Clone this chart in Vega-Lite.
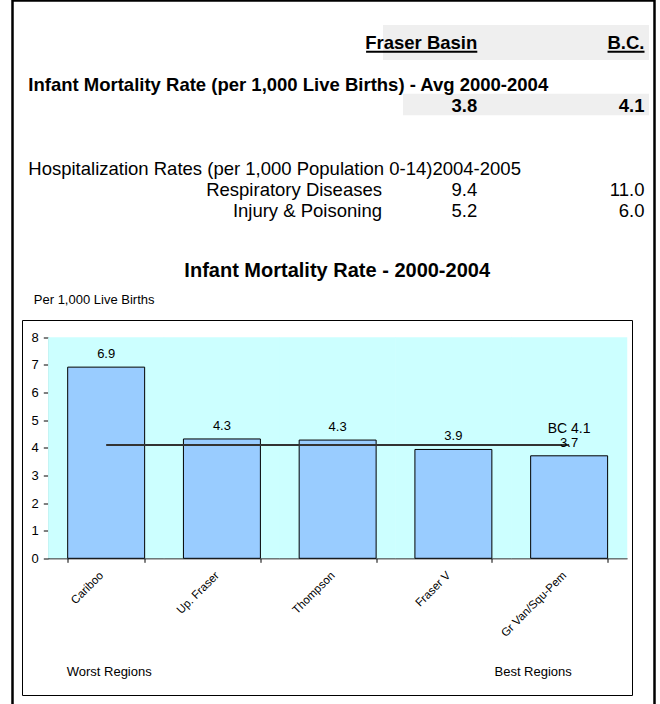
{
  "$schema": "https://vega.github.io/schema/vega-lite/v6.json",
  "width": 642,
  "height": 706,
  "autosize": {"type": "none"},
  "padding": {"left": 12.5, "top": 0.5, "right": 5.5, "bottom": -2.5},
  "background": "white",
  "view": {"stroke": "black", "strokeWidth": 2.5, "fill": "white"},
  "config": {
    "font": "Liberation Sans",
    "text": {"font": "Liberation Sans", "color": "black"},
    "axis": {"labelFont": "Liberation Sans", "titleFont": "Liberation Sans", "labelColor": "black", "titleColor": "black", "domainColor": "black", "tickColor": "black", "grid": false}
  },
  "resolve": {"scale": {"x": "independent", "y": "independent"}, "axis": {"x": "independent", "y": "independent"}},
  "layer": [
    {
      "data": {"values": [{"part": "chart area"}]},
      "mark": {"type": "rect", "fill": "transparent", "stroke": "black", "strokeWidth": 1},
      "encoding": {
        "x": {"datum": 0, "type": "quantitative",
          "scale": {"domain": [0, 1], "range": [10, 620], "nice": false, "zero": false},
          "axis": {"orient": "top", "offset": 0, "domain": false, "ticks": false, "labels": false, "grid": false,
            "title": "Infant Mortality Rate - 2000-2004", "titleFontSize": 20, "titleFontWeight": "bold",
            "titleX": 324.2, "titleY": 275.5, "titleAlign": "center", "titleBaseline": "alphabetic", "titleAngle": 0}},
        "x2": {"datum": 1},
        "y": {"datum": 0, "type": "quantitative",
          "scale": {"domain": [0, 1], "range": [695, 320], "nice": false, "zero": false},
          "axis": {"orient": "left", "offset": 0, "domain": false, "ticks": false, "labels": false, "grid": false,
            "title": "Best Regions", "titleFontSize": 13, "titleFontWeight": "normal",
            "titleX": 481.5, "titleY": 674.5, "titleAlign": "left", "titleBaseline": "alphabetic", "titleAngle": 0}},
        "y2": {"datum": 1}
      }
    },
    {
      "data": {"values": [
        {"row": 1, "section": "columns", "fbHead": "Fraser Basin", "bcHead": "B.C."},
        {"row": 3, "section": "infant", "title": "Infant Mortality Rate (per 1,000 Live Births) - Avg 2000-2004"},
        {"row": 4, "section": "infant", "measure": "Infant Mortality Rate", "fb": 3.8, "bc": 4.1},
        {"row": 7, "section": "hosp", "title": "Hospitalization Rates (per 1,000 Population 0-14)2004-2005"},
        {"row": 8, "section": "hosp", "item": "Respiratory Diseases", "fb": 9.4, "bc": 11.0},
        {"row": 9, "section": "hosp", "item": "Injury & Poisoning", "fb": 5.2, "bc": 6.0}
      ]},
      "layer": [
        {
          "transform": [{"filter": "datum.row == 1"}],
          "mark": {"type": "rect", "fill": "#efefef"},
          "encoding": {
            "x": {"datum": 1.01, "type": "quantitative", "scale": {"domain": [0, 1, 2, 3], "range": [15.8, 369.5, 464.8, 632], "nice": false, "zero": false}, "axis": null},
            "x2": {"datum": 3.027},
            "y": {"datum": -0.126, "type": "quantitative", "scale": {"domain": [0, 10], "range": [27.1, 237.6], "nice": false, "zero": false}, "axis": null},
            "y2": {"datum": 1.537}
          }
        },
        {
          "transform": [{"filter": "datum.row == 4"}],
          "mark": {"type": "rect", "fill": "#efefef"},
          "encoding": {
            "x": {"datum": 1.22, "type": "quantitative", "axis": null},
            "x2": {"datum": 3.027},
            "y": {"datum": 3.145, "type": "quantitative", "axis": null},
            "y2": {"datum": 4.16}
          }
        },
        {
          "transform": [{"filter": "datum.section == 'infant' && isValid(datum.title)"}],
          "mark": {"type": "text", "align": "left", "baseline": "alphabetic", "fontSize": 18.5, "fontWeight": "bold"},
          "encoding": {
            "x": {"datum": 0, "type": "quantitative", "axis": null},
            "y": {"field": "row", "type": "quantitative", "axis": null},
            "text": {"field": "title"}
          }
        },
        {
          "transform": [{"filter": "datum.section == 'hosp' && isValid(datum.title)"}],
          "mark": {"type": "text", "align": "left", "baseline": "alphabetic", "fontSize": 18.5, "fontWeight": "normal"},
          "encoding": {
            "x": {"datum": 0, "type": "quantitative", "axis": null},
            "y": {"field": "row", "type": "quantitative", "axis": null},
            "text": {"field": "title"}
          }
        },
        {
          "transform": [{"filter": "isValid(datum.item)"}],
          "mark": {"type": "text", "align": "right", "baseline": "alphabetic", "fontSize": 18.5},
          "encoding": {
            "x": {"datum": 1, "type": "quantitative", "axis": null},
            "y": {"field": "row", "type": "quantitative", "axis": null},
            "text": {"field": "item"}
          }
        },
        {
          "transform": [{"filter": "datum.section == 'columns'"}],
          "mark": {"type": "text", "align": "right", "baseline": "alphabetic", "fontSize": 18.5, "fontWeight": "bold"},
          "encoding": {
            "x": {"datum": 2, "type": "quantitative", "axis": null},
            "y": {"field": "row", "type": "quantitative", "axis": null},
            "text": {"field": "fbHead"}
          }
        },
        {
          "transform": [{"filter": "datum.section == 'columns'"}],
          "mark": {"type": "text", "align": "right", "baseline": "alphabetic", "fontSize": 18.5, "fontWeight": "bold"},
          "encoding": {
            "x": {"datum": 3, "type": "quantitative", "axis": null},
            "y": {"field": "row", "type": "quantitative", "axis": null},
            "text": {"field": "bcHead"}
          }
        },
        {
          "transform": [{"filter": "datum.section == 'columns'"}],
          "mark": {"type": "rule", "color": "black", "strokeWidth": 2, "yOffset": 3},
          "encoding": {
            "x": {"datum": 0.955, "type": "quantitative", "axis": null},
            "x2": {"datum": 2},
            "y": {"field": "row", "type": "quantitative", "axis": null}
          }
        },
        {
          "transform": [{"filter": "datum.section == 'columns'"}],
          "mark": {"type": "rule", "color": "black", "strokeWidth": 2, "yOffset": 3},
          "encoding": {
            "x": {"datum": 2.779, "type": "quantitative", "axis": null},
            "x2": {"datum": 3},
            "y": {"field": "row", "type": "quantitative", "axis": null}
          }
        },
        {
          "transform": [{"filter": "datum.section == 'infant' && isValid(datum.fb)"}],
          "mark": {"type": "text", "align": "right", "baseline": "alphabetic", "fontSize": 18.5, "fontWeight": "bold"},
          "encoding": {
            "x": {"datum": 2, "type": "quantitative", "axis": null},
            "y": {"field": "row", "type": "quantitative", "axis": null},
            "text": {"field": "fb", "type": "quantitative", "format": ".1f"}
          }
        },
        {
          "transform": [{"filter": "datum.section == 'infant' && isValid(datum.bc)"}],
          "mark": {"type": "text", "align": "right", "baseline": "alphabetic", "fontSize": 18.5, "fontWeight": "bold"},
          "encoding": {
            "x": {"datum": 3, "type": "quantitative", "axis": null},
            "y": {"field": "row", "type": "quantitative", "axis": null},
            "text": {"field": "bc", "type": "quantitative", "format": ".1f"}
          }
        },
        {
          "transform": [{"filter": "datum.section == 'hosp' && isValid(datum.fb)"}],
          "mark": {"type": "text", "align": "right", "baseline": "alphabetic", "fontSize": 18.5},
          "encoding": {
            "x": {"datum": 2, "type": "quantitative", "axis": null},
            "y": {"field": "row", "type": "quantitative", "axis": null},
            "text": {"field": "fb", "type": "quantitative", "format": ".1f"}
          }
        },
        {
          "transform": [{"filter": "datum.section == 'hosp' && isValid(datum.bc)"}],
          "mark": {"type": "text", "align": "right", "baseline": "alphabetic", "fontSize": 18.5},
          "encoding": {
            "x": {"datum": 3, "type": "quantitative", "axis": null},
            "y": {"field": "row", "type": "quantitative", "axis": null},
            "text": {"field": "bc", "type": "quantitative", "format": ".1f"}
          }
        }
      ]
    },
    {
      "data": {"values": [
        {"region": "Cariboo", "rate": 6.92, "bc": 4.1},
        {"region": "Up. Fraser", "rate": 4.32, "bc": 4.1},
        {"region": "Thompson", "rate": 4.28, "bc": 4.1},
        {"region": "Fraser V", "rate": 3.94, "bc": 4.1},
        {"region": "Gr Van/Squ-Pem", "rate": 3.71, "bc": 4.1, "bcLabel": "BC 4.1"}
      ]},
      "encoding": {
        "x": {"field": "region", "type": "nominal", "sort": null,
          "scale": {"type": "band", "domain": ["Cariboo", "Up. Fraser", "Thompson", "Fraser V", "Gr Van/Squ-Pem"], "range": [35.8, 614.5], "paddingInner": 0.335, "paddingOuter": 0.1675},
          "axis": {"orient": "bottom", "offset": -148.2, "labelAngle": -45, "labelFontSize": 11.5, "labelPadding": 7, "labelOffset": -9, "tickSize": 4, "tickBand": "extent", "labelOverlap": false,
            "title": "Worst Regions", "titleFontSize": 13, "titleFontWeight": "normal", "titleX": 96.2, "titleY": 116.7, "titleAlign": "center", "titleBaseline": "alphabetic", "titleAngle": 0}}
      },
      "layer": [
        {
          "mark": {"type": "bar", "fill": "#ccffff", "width": {"band": 1.51}},
          "encoding": {
            "y": {"datum": 8, "type": "quantitative", "scale": {"domain": [0, 8], "range": [557.8, 336.8], "nice": false, "zero": false},
              "axis": {"orient": "left", "offset": -35.8, "values": [0, 1, 2, 3, 4, 5, 6, 7, 8], "tickSize": 5, "labelPadding": 5, "labelFontSize": 13,
                "title": "Per 1,000 Live Births", "titleFontSize": 13, "titleFontWeight": "normal", "titleAngle": 0, "titleX": -15, "titleY": 302.8, "titleAlign": "left", "titleBaseline": "alphabetic"}},
            "y2": {"datum": 0}
          }
        },
        {
          "mark": {"type": "bar", "fill": "#99ccff", "stroke": "black", "strokeWidth": 1},
          "encoding": {
            "y": {"field": "rate", "type": "quantitative",
              "axis": {"orient": "left", "offset": -35.8, "values": [0, 1, 2, 3, 4, 5, 6, 7, 8], "tickSize": 5, "labelPadding": 5, "labelFontSize": 13,
                "title": "Per 1,000 Live Births", "titleFontSize": 13, "titleFontWeight": "normal", "titleAngle": 0, "titleX": -15, "titleY": 302.8, "titleAlign": "left", "titleBaseline": "alphabetic"}}
          }
        },
        {
          "mark": {"type": "line", "color": "#333333", "strokeWidth": 2},
          "encoding": {"y": {"field": "bc", "type": "quantitative",
              "axis": {"orient": "left", "offset": -35.8, "values": [0, 1, 2, 3, 4, 5, 6, 7, 8], "tickSize": 5, "labelPadding": 5, "labelFontSize": 13,
                "title": "Per 1,000 Live Births", "titleFontSize": 13, "titleFontWeight": "normal", "titleAngle": 0, "titleX": -15, "titleY": 302.8, "titleAlign": "left", "titleBaseline": "alphabetic"}}}
        },
        {
          "mark": {"type": "text", "baseline": "alphabetic", "fontSize": 13, "dy": -9},
          "encoding": {
            "y": {"field": "rate", "type": "quantitative",
              "axis": {"orient": "left", "offset": -35.8, "values": [0, 1, 2, 3, 4, 5, 6, 7, 8], "tickSize": 5, "labelPadding": 5, "labelFontSize": 13,
                "title": "Per 1,000 Live Births", "titleFontSize": 13, "titleFontWeight": "normal", "titleAngle": 0, "titleX": -15, "titleY": 302.8, "titleAlign": "left", "titleBaseline": "alphabetic"}},
            "text": {"field": "rate", "type": "quantitative", "format": ".1f"}
          }
        },
        {
          "transform": [{"filter": "isValid(datum.bcLabel)"}],
          "mark": {"type": "text", "baseline": "alphabetic", "fontSize": 14, "dy": -12.5},
          "encoding": {
            "y": {"field": "bc", "type": "quantitative",
              "axis": {"orient": "left", "offset": -35.8, "values": [0, 1, 2, 3, 4, 5, 6, 7, 8], "tickSize": 5, "labelPadding": 5, "labelFontSize": 13,
                "title": "Per 1,000 Live Births", "titleFontSize": 13, "titleFontWeight": "normal", "titleAngle": 0, "titleX": -15, "titleY": 302.8, "titleAlign": "left", "titleBaseline": "alphabetic"}},
            "text": {"field": "bcLabel"}
          }
        }
      ]
    }
  ]
}
